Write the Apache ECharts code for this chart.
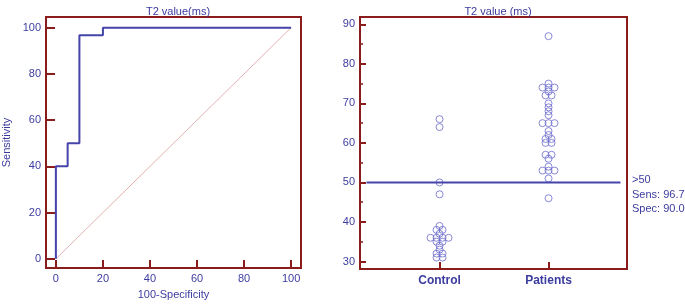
<!DOCTYPE html>
<html lang="en">
<head>
    <meta charset="UTF-8">
    <title>T2 value ROC and dot plot</title>
    <script src="https://cdn.jsdelivr.net/npm/echarts@6.0.0/dist/echarts.min.js"></script>
    <style>
        html, body { margin: 0; padding: 0; background: #fff; }
        #chart { width: 685px; height: 305px; }
    </style>
</head>
<body>
<div id="chart"></div>

<script>
    // ROC curve (100-Specificity vs Sensitivity)
    var rocX = [0, 0, 5, 5, 10, 10, 20, 20, 100];
    var rocY = [0, 40, 40, 50, 50, 96.7, 96.7, 100, 100];
    var diagX = [0, 100];
    var diagY = [0, 100];
    var rocTicks = [0, 20, 40, 60, 80, 100];

    // dot plot values (T2 value, ms)
    var groups = ['Control', 'Patients'];
    var controlValues = [66, 64, 50, 47, 39, 38, 38, 37, 36, 36, 36, 36, 35, 35, 34, 33, 32, 32, 31, 31];
    var patientValues = [87, 75, 74, 74, 74, 73, 72, 72, 70, 69, 68, 67, 65, 65, 65, 63, 62, 61, 61,
                         60, 60, 57, 57, 56, 54, 53, 53, 53, 51, 46];
    var dotTicks = [30, 40, 50, 60, 70, 80, 90];
    var dotMinorTicks = [35, 45, 55, 65, 75, 85];
    var cutoff = 50;
    var cutoffText = ['>50', 'Sens: 96.7', 'Spec: 90.0'];

    var red = '#8a1c1c';
    var blue = '#3c3ca0';
    var font = 'Liberation Sans, Arial, sans-serif';

    // spread identical values side by side, like a dot plot
    function swarm(values, center) {
        var counts = {};
        values.forEach(function (v) { counts[v] = (counts[v] || 0) + 1; });
        var seen = {};
        return values.map(function (v) {
            var n = counts[v];
            var i = seen[v] || 0;
            seen[v] = i + 1;
            return [center + (i - (n - 1) / 2) * 0.055, v];
        });
    }

    var chart = echarts.init(document.getElementById('chart'));
    var option = {
        animation: false,
        textStyle: { fontFamily: font },
        title: [
            { text: 'T2 value(ms)', left: 173, top: 1, textAlign: 'center',
              textStyle: { color: blue, fontSize: 11, fontWeight: 'normal', fontFamily: font } },
            { text: 'T2 value (ms)', left: 493, top: 1, textAlign: 'center',
              textStyle: { color: blue, fontSize: 11, fontWeight: 'normal', fontFamily: font } }
        ],
        grid: [
            { left: 45, right: 384, top: 17, bottom: 34, show: true, borderColor: red, borderWidth: 2 },
            { left: 360, right: 58, top: 17, bottom: 36, show: true, borderColor: red, borderWidth: 2 }
        ],
        xAxis: [
            {
                gridIndex: 0, type: 'value', min: -4.2, max: 104.2,
                name: '100-Specificity', nameLocation: 'middle', nameGap: 20,
                nameTextStyle: { color: blue, fontSize: 11 },
                axisLine: { show: false, onZero: false },
                splitLine: { show: false },
                axisTick: { inside: true, length: 8, customValues: rocTicks, lineStyle: { color: red, width: 2 } },
                axisLabel: { customValues: rocTicks, color: blue, fontSize: 11, margin: 5 }
            },
            {
                gridIndex: 1, type: 'value', min: -0.73, max: 1.72,
                axisLine: { show: false, onZero: false },
                splitLine: { show: false },
                axisTick: { inside: true, length: 7, customValues: [0, 1], lineStyle: { color: red, width: 2 } },
                axisLabel: {
                    customValues: [0, 1], color: blue, fontSize: 12, fontWeight: 'bold', margin: 6,
                    formatter: function (v) { return groups[Math.round(v)]; }
                }
            }
        ],
        yAxis: [
            {
                gridIndex: 0, type: 'value', min: -4, max: 104.6, position: 'left',
                name: 'Sensitivity', nameLocation: 'middle', nameGap: 34,
                nameTextStyle: { color: blue, fontSize: 11 },
                axisLine: { show: false, onZero: false },
                splitLine: { show: false },
                axisTick: { inside: true, length: 9, customValues: rocTicks, lineStyle: { color: red, width: 2 } },
                axisLabel: { customValues: rocTicks, color: blue, fontSize: 11, margin: 5 }
            },
            {
                gridIndex: 1, type: 'value', min: 28.1, max: 91.85, position: 'left',
                axisLine: { show: false, onZero: false },
                splitLine: { show: false },
                axisTick: { inside: true, length: 6, customValues: dotTicks, lineStyle: { color: red, width: 2 } },
                axisLabel: { customValues: dotTicks, color: blue, fontSize: 11, margin: 5 }
            },
            {
                gridIndex: 1, type: 'value', min: 28.1, max: 91.85, position: 'left', offset: 0,
                axisLine: { show: false, onZero: false },
                splitLine: { show: false },
                axisTick: { inside: true, length: 3, customValues: dotMinorTicks, lineStyle: { color: red, width: 1.5 } },
                axisLabel: { show: false }
            }
        ],
        series: [
            {
                type: 'line', xAxisIndex: 0, yAxisIndex: 0, symbol: 'none',
                data: diagX.map(function (x, i) { return [x, diagY[i]]; }),
                lineStyle: { color: '#e6b0b0', width: 1 }
            },
            {
                type: 'line', xAxisIndex: 0, yAxisIndex: 0, symbol: 'none',
                data: rocX.map(function (x, i) { return [x, rocY[i]]; }),
                lineStyle: { color: '#4444aa', width: 2 }
            },
            {
                type: 'line', xAxisIndex: 1, yAxisIndex: 1, symbol: 'none',
                data: [[-0.67, cutoff], [1.66, cutoff]],
                lineStyle: { color: '#4444aa', width: 2 }
            },
            {
                type: 'scatter', xAxisIndex: 1, yAxisIndex: 1, symbol: 'circle', symbolSize: 7,
                data: swarm(controlValues, 0).concat(swarm(patientValues, 1)),
                itemStyle: { color: 'transparent', borderColor: '#6a6acc', borderWidth: 1 }
            }
        ],
        graphic: [
            {
                type: 'text', left: 632, top: 173,
                style: {
                    text: cutoffText.join('\n'), fill: blue, font: '11px ' + font, lineHeight: 14.5
                }
            }
        ]
    };
    chart.setOption(option);
</script>
</body>
</html>
